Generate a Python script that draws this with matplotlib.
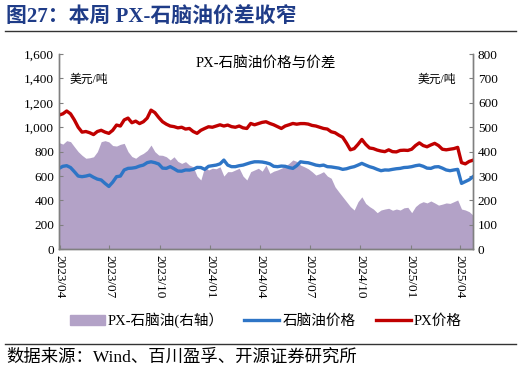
import numpy as np
import pandas as pd
import matplotlib
matplotlib.use('Agg')
import matplotlib.pyplot as plt
import matplotlib.dates as mdates
import matplotlib.ticker as mticker
from matplotlib.patches import Patch
from matplotlib.lines import Line2D

plt.rcParams['font.family'] = ['Liberation Serif', 'Noto Sans CJK SC']
plt.rcParams['axes.unicode_minus'] = False

# weekly readings, 2023-03-31 .. 2025-04-25
dates = pd.date_range('2023-03-31', periods=109, freq='7D')

px_price = [1100, 1110, 1133, 1110, 1060, 1000, 960, 965, 955, 940,
            965, 975, 960, 950, 975, 1018, 1010, 1060, 1075, 1037,
            1050, 1030, 1045, 1075, 1140, 1120, 1080, 1045, 1025, 1010,
            1005, 995, 1000, 985, 990, 965, 950, 975, 990, 1004,
            1000, 1010, 1020, 1010, 1018, 1005, 1000, 1010, 995, 990,
            1031, 1020, 1030, 1040, 1045, 1031, 1020, 1005, 990, 1010,
            1020, 1031, 1025, 1030, 1030, 1026, 1015, 1010, 1000, 990,
            985, 963, 955, 935, 918, 870, 815, 825, 860, 900,
            860, 830, 825, 813, 805, 800, 815, 800, 798, 810,
            812, 810, 820, 850, 872, 850, 840, 855, 868, 850,
            820, 815, 820, 825, 835, 710, 700, 720, 730]

naphtha = [663, 680, 685, 670, 636, 600, 595, 600, 608, 590,
           575, 568, 540, 515, 550, 595, 600, 650, 663, 665,
           670, 682, 690, 710, 717, 710, 699, 665, 663, 677,
           660, 641, 640, 650, 649, 655, 671, 670, 655, 680,
           685, 690, 700, 731, 690, 677, 677, 685, 690, 700,
           710, 717, 717, 715, 709, 700, 680, 677, 682, 680,
           670, 663, 685, 717, 712, 709, 700, 690, 685, 690,
           677, 675, 670, 665, 655, 660, 670, 677, 690, 704,
           690, 677, 668, 655, 644, 650, 649, 655, 660, 663,
           670, 672, 677, 685, 690, 680, 665, 663, 675, 677,
           665, 650, 644, 650, 655, 540, 555, 570, 595]

spread = [437, 431, 445, 441, 420, 400, 385, 373, 375, 379,
          400, 441, 445, 440, 425, 423, 430, 434, 400, 380,
          373, 385, 393, 405, 427, 400, 386, 385, 379, 366,
          379, 360, 352, 359, 345, 338, 300, 284, 338, 325,
          332, 330, 338, 300, 318, 318, 325, 332, 300, 284,
          318, 325, 332, 320, 345, 311, 320, 325, 332, 340,
          352, 366, 360, 345, 338, 330, 318, 304, 310, 318,
          300, 291, 256, 235, 215, 195, 175, 161, 195, 215,
          188, 175, 165, 150, 161, 165, 168, 160, 165, 161,
          170, 172, 150, 175, 188, 195, 190, 198, 190, 181,
          185, 190, 188, 195, 202, 165, 161, 154, 140]

tick_dates = pd.date_range('2023-04-01', '2025-04-01', freq='3MS')

c_area = '#B3A2C7'
c_blue = '#2E75C6'
c_red = '#C00000'

fig = plt.figure(figsize=(5.21, 3.74), dpi=100)
ax = fig.add_axes([0.1133, 0.3334, 0.7946, 0.5222])
ax2 = ax.twinx()

ax2.fill_between(dates, spread, 0, color=c_area, linewidth=0)
ax.plot(dates, naphtha, color=c_blue, lw=2.4)
ax.plot(dates, px_price, color=c_red, lw=2.4)

ax.set_zorder(ax2.get_zorder() + 1)
ax.patch.set_visible(False)

ax.set_ylim(0, 1600)
ax2.set_ylim(0, 800)
ax.set_yticks(np.arange(0, 1601, 200))
ax2.set_yticks(np.arange(0, 801, 100))
ax.yaxis.set_major_formatter(mticker.FuncFormatter(lambda v, p: f'{int(v):,}'))
ax.set_xlim(pd.Timestamp('2023-03-31'), pd.Timestamp('2025-04-25'))
ax.set_xticks(tick_dates)
ax.xaxis.set_major_formatter(mdates.DateFormatter('%Y/%m'))

for a in (ax, ax2):
    for s in a.spines.values():
        s.set_color('#808080')
        s.set_linewidth(1)
    a.spines['top'].set_visible(False)
    a.tick_params(direction='in', length=3, colors='#808080', labelcolor='black', labelsize=9.5)
ax.tick_params(axis='x', labelrotation=-90, pad=4)

ax.text(0.5, 0.99, 'PX-石脑油价格与价差', transform=ax.transAxes, ha='center', va='top', fontsize=10.5)
ax.text(0.025, 0.9, '美元/吨', transform=ax.transAxes, ha='left', va='top', fontsize=8.5)
ax.text(0.96, 0.9, '美元/吨', transform=ax.transAxes, ha='right', va='top', fontsize=8.5)

handles = [Patch(color=c_area), Line2D([], [], color=c_blue, lw=2.4), Line2D([], [], color=c_red, lw=2.4)]
labels = ['PX-石脑油(右轴）', '石脑油价格', 'PX价格']
fig.legend(handles, labels, loc='center', bbox_to_anchor=(0.51, 0.143), ncol=3, frameon=False,
           fontsize=10.5, handlelength=2.4, handletextpad=0.2, columnspacing=1.4)

fig.text(0.012, 0.953, '图27：本周 PX-石脑油价差收窄', fontsize=15, fontweight='bold', color='#1F3C88', va='center')
fig.add_artist(Line2D([0.01, 0.99], [0.918, 0.918], color='#333333', lw=1))
fig.add_artist(Line2D([0.01, 0.99], [0.08, 0.08], color='#333333', lw=1))
fig.text(0.012, 0.045, '数据来源：Wind、百川盈孚、开源证券研究所', fontsize=12.5, va='center')

fig.savefig('out.png', dpi=100)
